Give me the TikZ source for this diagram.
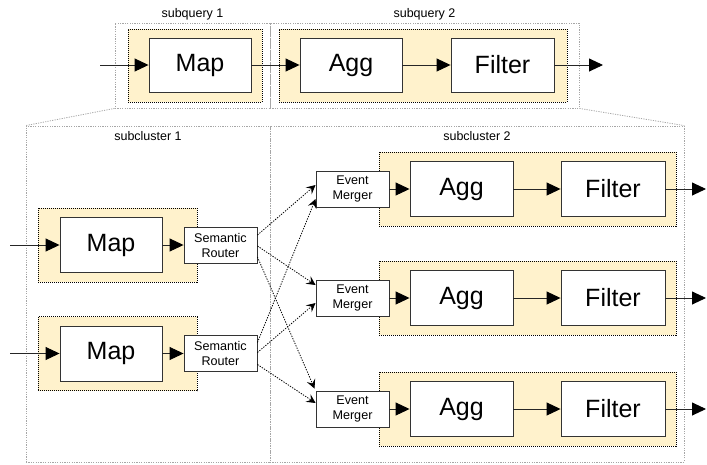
\documentclass[tikz,border=0pt]{standalone}
\usepackage{fontspec}
\setmainfont{Liberation Sans}
\usetikzlibrary{arrows.meta,calc}

\definecolor{opfill}{HTML}{FFF2CC}
\definecolor{framegray}{HTML}{A6A6A6}
\definecolor{edgegray}{HTML}{333333}

\tikzset{
  opbox/.style={draw=edgegray, line width=0.9pt, fill=white, inner sep=0pt,
    font=\fontsize{25}{30}\selectfont},
  smallbox/.style={draw=edgegray, line width=0.9pt, fill=white, inner sep=0pt,
    align=center, font=\fontsize{12.6}{15}\selectfont,
    minimum width=73pt, minimum height=36pt},
  groupbox/.style={draw=black, fill=opfill, line width=0.8pt,
    dash pattern=on 1pt off 1pt, inner sep=0pt},
  framebox/.style={draw=framegray, line width=0.8pt,
    dash pattern=on 1.2pt off 1.2pt, inner sep=0pt},
  zoomline/.style={draw=framegray, line width=0.8pt, dash pattern=on 1.2pt off 1.2pt},
  caption/.style={font=\fontsize{12.5}{15}\selectfont, inner sep=0pt},
  flow/.style={draw=black!85, line width=0.9pt,
    -{Triangle[length=14pt, width=13pt, color=black]}},
  route/.style={draw=black, line width=0.8pt, dash pattern=on 1.3pt off 1.3pt,
    -{Stealth[length=9pt, width=9pt, inset=3.5pt]}},
}

\begin{document}
\begin{tikzpicture}[x=1pt, y=-1pt]
\useasboundingbox (0,0) rectangle (707,464);

% ---------- logical query: two subqueries ----------
\node[framebox, minimum width=155pt, minimum height=85pt] (sq1) at (192.5,65.5) {};
\node[framebox, minimum width=309pt, minimum height=85pt] (sq2) at (424.5,65.5) {};
\node[caption] (sq1lbl) at (192.5,14) {subquery 1};
\node[caption] (sq2lbl) at (424.5,14) {subquery 2};

\node[groupbox, minimum width=134pt, minimum height=73pt] (g1) at (195,65.5) {};
\node[groupbox, minimum width=288pt, minimum height=73pt] (g2) at (423,65.5) {};

\node[opbox, minimum width=102pt, minimum height=54pt] (qmap) at (200,65) {Map};
\node[opbox, minimum width=102pt, minimum height=54pt] (qagg) at (351,65) {Agg};
\node[opbox, minimum width=103pt, minimum height=54pt] (qfil) at (502.5,65) {Filter};

\coordinate (qin) at (100,65);
\coordinate (qout) at (603,65);
\draw[flow] (qin) -- (qmap);
\draw[flow] (qmap) -- (qagg);
\draw[flow] (qagg) -- (qfil);
\draw[flow] (qfil) -- (qout);

% ---------- physical deployment: two subclusters ----------
\node[framebox, minimum width=244pt, minimum height=336pt] (sc1) at (148,294) {};
\node[framebox, minimum width=414pt, minimum height=336pt] (sc2) at (477,294) {};
\node[caption] (sc1lbl) at (148,136) {subcluster 1};
\node[caption] (sc2lbl) at (477,136) {subcluster 2};

\draw[zoomline] (sq1.south west) -- (sc1.north west);
\draw[zoomline] (sq2.south east) -- (sc2.north east);

% subcluster 1: Map instances with semantic routers
\node[groupbox, minimum width=159pt, minimum height=74pt] (mg1) at (117.5,245) {};
\node[groupbox, minimum width=159pt, minimum height=74pt] (mg2) at (117.5,353.5) {};

\node[opbox, minimum width=102pt, minimum height=55pt] (map1) at (111,245) {Map};
\node[opbox, minimum width=102pt, minimum height=55pt] (map2) at (111,353.5) {Map};

\node[smallbox] (r1) at (220.5,245) {Semantic\\Router};
\node[smallbox] (r2) at (220.5,353.5) {Semantic\\Router};

\coordinate (in1) at (10,245);
\coordinate (in2) at (10,353.5);
\draw[flow] (in1) -- (map1);
\draw[flow] (map1) -- (r1);
\draw[flow] (in2) -- (map2);
\draw[flow] (map2) -- (r2);

% subcluster 2: Agg/Filter instances with event mergers
\foreach \i/\y in {1/189, 2/298, 3/409} {
  \node[groupbox, minimum width=297pt, minimum height=74pt] (ag\i) at (527.5,\y) {};
  \node[smallbox] (em\i) at (352.5,\y) {Event\\Merger};
  \node[opbox, minimum width=103pt, minimum height=55pt] (agg\i) at (461.5,\y) {Agg};
  \node[opbox, minimum width=104pt, minimum height=55pt] (fil\i) at (613,\y) {Filter};
  \coordinate (out\i) at (706,\y);
  \draw[flow] (em\i) -- (agg\i);
  \draw[flow] (agg\i) -- (fil\i);
  \draw[flow] (fil\i) -- (out\i);
}

% routing between the subclusters
\draw[route] ([yshift=10pt]r1.east) -- ([yshift=4pt]em1.west);
\draw[route] ([yshift=-1pt]r1.east) -- ([yshift=13pt]em2.west);
\draw[route] ([yshift=-12pt]r1.east) -- ([xshift=-1pt,yshift=2pt]em3.north west);
\draw[route] ([yshift=11pt]r2.east) -- ([yshift=-10pt]em1.west);
\draw[route] ([yshift=1pt]r2.east) -- ([yshift=-5pt]em2.west);
\draw[route] ([yshift=-11pt]r2.east) -- ([yshift=6pt]em3.west);
\end{tikzpicture}
\end{document}
